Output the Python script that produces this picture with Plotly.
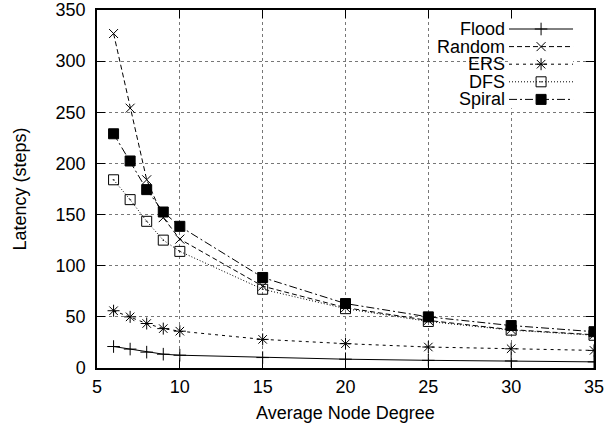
import plotly.graph_objects as go

# ---- data ----
degree = [6, 7, 8, 9, 10, 15, 20, 25, 30, 35]
flood = [21, 18.5, 15.5, 13.5, 12.5, 10.2, 8.6, 7.5, 6.9, 6.0]
random_walk = [327, 254, 184, 147, 126, 80, 59, 46.5, 37.5, 32.5]
ers = [56, 50, 43.5, 38.5, 36, 28, 23.8, 20.5, 18.8, 17.2]
dfs = [184, 164.6, 143.4, 125, 114, 77, 58, 45.5, 37, 32]
spiral = [229, 202.4, 174.4, 152.5, 138.5, 88.5, 63, 50, 41.5, 35.5]

series_names = ["Flood", "Random", "ERS", "DFS", "Spiral"]
series_values = [flood, random_walk, ers, dfs, spiral]

x_ticks = [5, 10, 15, 20, 25, 30, 35]
y_ticks = [0, 50, 100, 150, 200, 250, 300, 350]

# ---- styles ----
styles = {
    "Flood": dict(dash="solid", symbol="cross-thin", size=9),
    "Random": dict(dash="5px,3px", symbol="x-thin", size=9),
    "ERS": dict(dash="3px,4px", symbol="asterisk", size=10),
    "DFS": dict(dash="1px,2px", symbol="square-open-dot", size=10),
    "Spiral": dict(dash="8px,3px,2px,3px", symbol="square", size=10),
}

FONT = "Liberation Sans, Arial, Helvetica, sans-serif"
FS = 18

fig = go.Figure()

for name, vals in zip(series_names, series_values):
    st = styles[name]
    fig.add_trace(go.Scatter(
        x=degree, y=vals, name=name, mode="lines+markers",
        line=dict(color="black", width=1, dash=st["dash"]),
        marker=dict(symbol=st["symbol"], size=st["size"], color="black",
                    line=dict(color="black", width=1)),
        showlegend=False,
    ))

# ---- custom gnuplot-style legend (text left, sample right) ----
for i, name in enumerate(series_names):
    st = styles[name]
    fig.add_trace(go.Scatter(
        x=[0, 1], y=[i, i], mode="lines", xaxis="x2", yaxis="y2",
        line=dict(color="black", width=1, dash=st["dash"]),
        showlegend=False, hoverinfo="skip",
    ))
    fig.add_trace(go.Scatter(
        x=[0.5], y=[i], mode="markers", xaxis="x2", yaxis="y2",
        marker=dict(symbol=st["symbol"], size=st["size"], color="black",
                    line=dict(color="black", width=1)),
        showlegend=False, hoverinfo="skip",
    ))
    fig.add_annotation(
        x=0.825, xref="paper", y=i, yref="y2", text=name, showarrow=False,
        xanchor="right", yanchor="middle",
        font=dict(family=FONT, size=FS, color="black"),
    )

axis_common = dict(
    showline=True, linecolor="black", linewidth=1.5, mirror="ticks",
    ticks="inside", ticklen=8, tickwidth=1.2, tickcolor="black",
    showgrid=True, gridcolor="#777777", gridwidth=1, griddash="dot",
    zeroline=False, automargin=False,
    tickfont=dict(family=FONT, size=FS, color="black"),
)

fig.update_layout(
    template="none",
    width=608, height=430,
    margin=dict(l=97, r=14, t=10, b=62, autoexpand=False),
    paper_bgcolor="white", plot_bgcolor="white",
    font=dict(family=FONT, size=FS, color="black"),
    xaxis=dict(range=[5, 35], tickvals=x_ticks, ticktext=[str(v) for v in x_ticks],
               title=dict(text="Average Node Degree", standoff=10,
                          font=dict(family=FONT, size=FS)),
               ticklabelstandoff=2,
               **axis_common),
    yaxis=dict(range=[0, 350], tickvals=y_ticks, ticktext=[str(v) for v in y_ticks],
               title=dict(text="Latency (steps)", standoff=24,
                          font=dict(family=FONT, size=FS)),
               ticklabelstandoff=6,
               **axis_common),
    xaxis2=dict(domain=[0.829, 0.958], range=[0, 1], visible=False,
                anchor="y2", fixedrange=True),
    yaxis2=dict(domain=[0.7257, 0.9715], range=[4.5, -0.5], visible=False,
                anchor="x2", fixedrange=True),
    shapes=[dict(type="rect", xref="paper", yref="paper",
                 x0=(440 - 97) / 497, x1=0.995, y0=(368 - 109) / 358, y1=(368 - 19) / 358,
                 fillcolor="white", line=dict(width=0), layer="between")],
)

fig.write_html(
    "out.html",
    config={"displayModeBar": False},
    post_script="document.body.style.margin='0';document.body.style.overflow='hidden';",
)
